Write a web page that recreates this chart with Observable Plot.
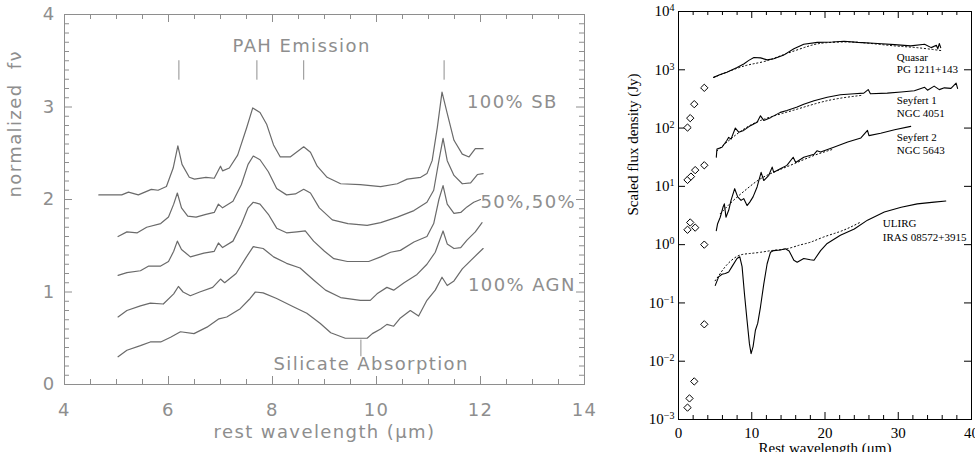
<!DOCTYPE html>
<html><head><meta charset="utf-8">
<script src="https://cdn.jsdelivr.net/npm/d3@7"></script>
<script src="https://cdn.jsdelivr.net/npm/@observablehq/plot@0.6"></script>
<style>
html,body{margin:0;padding:0;background:#fff;overflow:hidden;}
#wrap{position:relative;width:975px;height:452px;overflow:hidden;}
#left{position:absolute;left:0;top:0;width:600px;height:452px;}
#right{position:absolute;left:600px;top:0;width:390px;height:452px;}
#wrap svg{max-width:none !important;display:block;}
</style></head><body>
<div id="wrap"><div id="left"></div><div id="right"></div></div>
<script>
// ---------------- LEFT PANEL DATA (rest wavelength µm, normalized fν) ----------------
const spec100SB = [[4.66,2.05],[5.1,2.05],[5.23,2.08],[5.42,2.05],[5.67,2.11],[5.8,2.10],[5.96,2.14],[6.09,2.34],[6.18,2.58],[6.26,2.38],[6.4,2.24],[6.5,2.22],[6.72,2.24],[6.88,2.23],[7.0,2.36],[7.04,2.31],[7.17,2.34],[7.33,2.48],[7.5,2.77],[7.62,2.99],[7.76,2.94],[7.89,2.81],[8.02,2.59],[8.15,2.46],[8.34,2.46],[8.6,2.57],[8.73,2.51],[8.86,2.36],[9.05,2.24],[9.31,2.17],[9.69,2.16],[10.08,2.14],[10.4,2.17],[10.59,2.22],[10.85,2.24],[10.97,2.28],[11.07,2.42],[11.17,2.78],[11.26,3.16],[11.36,2.93],[11.49,2.64],[11.65,2.49],[11.78,2.46],[11.9,2.55],[12.05,2.55]];
const spec75SB = [[5.03,1.6],[5.2,1.65],[5.4,1.64],[5.58,1.7],[5.85,1.74],[6.0,1.81],[6.1,1.95],[6.17,2.07],[6.25,1.91],[6.37,1.82],[6.53,1.81],[6.72,1.84],[6.88,1.86],[6.96,1.95],[7.04,1.91],[7.24,1.98],[7.4,2.16],[7.53,2.38],[7.63,2.47],[7.76,2.43],[7.92,2.3],[8.08,2.12],[8.27,2.05],[8.44,2.06],[8.6,2.11],[8.73,2.07],[8.9,1.91],[9.15,1.78],[9.45,1.74],[9.82,1.72],[10.08,1.75],[10.4,1.81],[10.72,1.88],[10.97,1.97],[11.1,2.1],[11.2,2.42],[11.28,2.66],[11.36,2.42],[11.49,2.26],[11.65,2.17],[11.81,2.18],[11.94,2.27],[12.05,2.28]];
const spec50SB = [[5.03,1.18],[5.2,1.21],[5.46,1.23],[5.62,1.28],[5.85,1.28],[6.0,1.33],[6.1,1.44],[6.17,1.55],[6.25,1.46],[6.42,1.38],[6.68,1.42],[6.88,1.44],[6.96,1.53],[7.04,1.48],[7.24,1.55],[7.4,1.73],[7.53,1.91],[7.63,1.97],[7.76,1.95],[7.92,1.84],[8.08,1.69],[8.27,1.64],[8.47,1.65],[8.63,1.66],[8.79,1.55],[9.0,1.44],[9.18,1.36],[9.44,1.33],[9.85,1.33],[10.08,1.38],[10.27,1.43],[10.46,1.45],[10.72,1.54],[10.97,1.6],[11.1,1.74],[11.2,2.0],[11.28,2.15],[11.36,1.95],[11.49,1.85],[11.62,1.86],[11.74,1.92],[11.87,1.97],[12.0,2.0]];
const spec25SB = [[5.03,0.73],[5.2,0.8],[5.46,0.85],[5.65,0.88],[5.9,0.87],[6.1,0.98],[6.19,1.06],[6.28,1.0],[6.42,0.96],[6.6,1.0],[6.85,1.05],[7.0,1.14],[7.08,1.1],[7.3,1.2],[7.5,1.38],[7.63,1.49],[7.82,1.47],[8.02,1.38],[8.27,1.31],[8.53,1.26],[8.79,1.13],[9.02,1.02],[9.31,0.94],[9.69,0.91],[9.88,0.91],[10.01,0.98],[10.2,1.05],[10.33,1.02],[10.53,1.1],[10.78,1.19],[10.97,1.3],[11.13,1.43],[11.28,1.66],[11.36,1.52],[11.49,1.47],[11.62,1.48],[11.74,1.56],[11.9,1.65],[12.03,1.75]];
const spec100AGN = [[5.03,0.3],[5.2,0.37],[5.46,0.42],[5.65,0.46],[5.85,0.46],[6.04,0.51],[6.23,0.57],[6.49,0.55],[6.74,0.62],[6.97,0.71],[7.12,0.73],[7.38,0.82],[7.57,0.93],[7.67,1.0],[7.82,0.99],[8.08,0.93],[8.4,0.84],[8.66,0.77],[8.92,0.66],[9.12,0.56],[9.4,0.5],[9.82,0.5],[9.92,0.55],[10.08,0.6],[10.2,0.65],[10.33,0.63],[10.46,0.72],[10.65,0.8],[10.81,0.74],[10.97,0.91],[11.13,1.02],[11.26,1.16],[11.36,1.07],[11.49,1.12],[11.65,1.25],[11.81,1.34],[12.05,1.47]];
const leftXTicks = [4,6,8,10,12,14];
const leftYTicks = [0,1,2,3,4];
const pahBands = [6.2,7.7,8.6,11.3];
const pahMarkerSpan = [3.29,3.5];
const silicateBand = [9.7];
const silicateMarkerSpan = [0.3,0.48];
const leftLabelsStart = [
  {text:"100% SB", x:11.74, y:3.05},
  {text:"50%,50%", x:12.0, y:1.97},
  {text:"100% AGN", x:11.76, y:1.07},
  {text:"Silicate Absorption", x:8.02, y:0.22}
];
const leftLabelsCenter = [{text:"PAH Emission", x:8.56, y:3.66}];

// ---------------- RIGHT PANEL DATA (rest wavelength µm, scaled flux density Jy) ----------------
const quasarObs = [[4.8,741],[5.7,830],[6.6,910],[8.0,1096],[8.9,1260],[9.6,1450],[10.3,1620],[11.2,1600],[12.1,1480],[13.0,1550],[14.4,1800],[15.75,2300],[17.1,2750],[18.95,2950],[21.0,3000],[22.6,3090],[24.5,2950],[27.2,2820],[29.5,2700],[31.7,2570],[33.6,2750],[34.5,2400],[35.2,2630],[35.4,2290],[35.6,2820],[35.8,2400]];
const quasarModel = [[4.8,741],[8.0,1060],[10.0,1250],[12.0,1420],[14.0,1750],[16.0,2150],[18.0,2600],[20.0,2900],[23.0,3000],[26.0,2850],[29.5,2570],[32.5,2400],[35.8,2140]];
const seyfert1Obs = [[5.16,31.6],[5.25,43.7],[5.94,46.8],[6.62,61.7],[6.85,69.2],[7.17,64.6],[7.76,100],[8.22,85.1],[8.9,91.2],[9.82,110],[10.73,126],[11.19,162],[11.64,135],[12.56,151],[13.0,162],[13.9,186],[14.8,200],[16.2,229],[17.1,257],[18.5,295],[20.3,339],[22.1,372],[24.0,389],[25.3,398],[25.9,457],[26.2,389],[28.5,398],[30.4,417],[32.2,437],[33.6,501],[34.0,447],[34.9,525],[35.6,457],[36.3,490],[37.2,479],[37.9,589],[38.1,479]];
const seyfert1Model = [[5.25,40.7],[8.0,79.4],[11.2,135],[15.8,204],[20.3,295],[24.9,363]];
const seyfert2Obs = [[5.16,1.74],[5.34,2.29],[5.7,2.95],[6.07,4.37],[6.26,5.01],[6.48,2.95],[6.85,3.89],[7.17,5.75],[7.67,9.12],[8.08,6.61],[8.54,5.75],[8.9,6.17],[9.36,4.68],[9.73,5.37],[10.18,6.61],[10.73,9.77],[11.28,17.4],[11.64,12.6],[12.33,15.5],[12.79,21.4],[13.0,17.4],[13.9,20],[14.8,22.9],[15.66,31.6],[16.0,25.7],[17.1,31.6],[18.5,35.5],[18.9,40.7],[19.4,38.9],[21.2,46.8],[23.1,57.5],[24.9,67.6],[25.8,91.2],[26.0,74.1],[27.6,81.3],[29.5,93.3],[31.7,107]];
const seyfert2Model = [[5.7,3.4],[7.5,5.75],[9.36,9.1],[11.2,13.5],[13.5,18.6],[15.8,24.5],[18.5,33.9],[21.2,43.7]];
const ulirgObs = [[5.02,0.2],[5.48,0.28],[5.94,0.31],[6.39,0.32],[6.85,0.34],[7.3,0.42],[7.99,0.58],[8.36,0.62],[8.68,0.42],[9.0,0.145],[9.36,0.05],[9.68,0.02],[9.91,0.0135],[10.18,0.0178],[10.5,0.034],[10.82,0.045],[11.19,0.085],[11.64,0.21],[12.1,0.47],[12.56,0.74],[13.0,0.79],[13.9,0.81],[14.6,0.85],[15.1,0.78],[15.75,0.54],[16.2,0.5],[17.1,0.58],[18.0,0.55],[18.5,0.54],[19.4,0.79],[20.3,1.05],[22.1,1.45],[24.0,1.86],[25.8,2.63],[28.1,3.63],[30.4,4.37],[32.6,5.01],[34.9,5.37],[36.5,5.62]];
const ulirgModel = [[5.0,0.24],[5.7,0.32],[6.6,0.45],[8.0,0.63],[9.5,0.7],[11.2,0.74],[13.0,0.8],[14.8,0.85],[16.5,0.98],[18.0,1.1],[19.8,1.35],[21.7,1.62],[23.3,1.95],[24.9,2.45]];
const photometry = [[1.23,102],[1.6,148],[2.15,257],[3.52,490],[1.23,12.9],[1.7,14.7],[2.28,19],[3.52,23],[1.23,1.8],[1.6,2.4],[2.28,1.96],[3.52,1.0],[3.52,0.043],[2.15,0.0045],[1.5,0.0023],[1.23,0.0016]];
const rightXTicks = [0,10,20,30,40];
const rightYTicks = [1e-3,1e-2,1e-1,1,1e1,1e2,1e3,1e4];
const rightLabels = [
  {text:"Quasar", x:29.8, y:1650},
  {text:"PG 1211+143", x:29.8, y:1000},
  {text:"Seyfert 1", x:29.8, y:295},
  {text:"NGC 4051", x:29.8, y:178},
  {text:"Seyfert 2", x:29.8, y:69},
  {text:"NGC 5643", x:29.8, y:41.7},
  {text:"ULIRG", x:27.9, y:2.31},
  {text:"IRAS 08572+3915", x:27.9, y:1.33}
];

// ---------------- LEFT PANEL ----------------
const G = "#8e8e8e", GL = "#6a6a6a";
const LW = 600, LH = 452, LML = 64, LMR = 16, LMT = 14, LMB = 68;
const lInnerH = LH - LMT - LMB, lInnerW = LW - LML - LMR;
const leftXMinor = d3.range(4, 14.001, 0.5).filter(v => !leftXTicks.includes(v));
const leftYMinor = d3.range(0, 4.0001, 0.1).map(v => +v.toFixed(1)).filter(v => !leftYTicks.includes(v));
const leftSpectra = [["100% SB", spec100SB],["75% SB", spec75SB],["50%", spec50SB],["25% SB", spec25SB],["100% AGN", spec100AGN]];
const leftRows = leftSpectra.flatMap(([name, pts]) => pts.map(([x, y]) => ({name, x, y})));
const leftFont = "'DejaVu Sans', 'Liberation Sans', sans-serif";
const lt = {fontSize: 18, fill: G, fontFamily: leftFont};

const leftPlot = Plot.plot({
  width: LW, height: LH, marginLeft: LML, marginRight: LMR, marginTop: LMT, marginBottom: LMB,
  style: {fontFamily: leftFont, background: "transparent", letterSpacing: "1.4px"},
  x: {domain: [4, 14]}, y: {domain: [0, 4]},
  marks: [
    Plot.frame({stroke: G}),
    Plot.tickX(leftXTicks, {x: d => d, stroke: G, insetTop: lInnerH - 8}),
    Plot.tickX(leftXTicks, {x: d => d, stroke: G, insetBottom: lInnerH - 8}),
    Plot.tickX(leftXMinor, {x: d => d, stroke: G, insetTop: lInnerH - 5}),
    Plot.tickX(leftXMinor, {x: d => d, stroke: G, insetBottom: lInnerH - 5}),
    Plot.tickY(leftYTicks, {y: d => d, stroke: G, insetRight: lInnerW - 8}),
    Plot.tickY(leftYTicks, {y: d => d, stroke: G, insetLeft: lInnerW - 8}),
    Plot.tickY(leftYMinor, {y: d => d, stroke: G, insetRight: lInnerW - 5}),
    Plot.tickY(leftYMinor, {y: d => d, stroke: G, insetLeft: lInnerW - 5}),
    Plot.axisX(leftXTicks, {tickSize: 0, tickPadding: 19, fontSize: 18, color: G, label: null, tickFormat: d => String(d)}),
    Plot.axisY(leftYTicks, {tickSize: 0, tickPadding: 9, fontSize: 18, color: G, label: null, tickFormat: d => String(d)}),
    Plot.line(leftRows, {x: "x", y: "y", z: "name", stroke: GL, strokeWidth: 1.2}),
    Plot.ruleX(pahBands, {x: d => d, y1: pahMarkerSpan[0], y2: pahMarkerSpan[1], stroke: G}),
    Plot.ruleX(silicateBand, {x: d => d, y1: silicateMarkerSpan[0], y2: silicateMarkerSpan[1], stroke: G}),
    Plot.text(leftLabelsStart, {x: "x", y: "y", text: "text", textAnchor: "start", ...lt}),
    Plot.text(leftLabelsCenter, {x: "x", y: "y", text: "text", textAnchor: "middle", ...lt}),
    Plot.text(["normalized  fν"], {frameAnchor: "left", dx: -49, dy: -2, rotate: -90, ...lt}),
    Plot.text(["rest wavelength (μm)"], {frameAnchor: "bottom", dy: 53, ...lt})
  ]
});
document.getElementById("left").appendChild(leftPlot);

// ---------------- RIGHT PANEL ----------------
const RW = 390, RH = 452, RML = 78, RMR = 19, RMT = 11, RMB = 33;
const rInnerH = RH - RMT - RMB, rInnerW = RW - RML - RMR;
const rightXMinor = d3.range(0, 40.001, 2).filter(v => !rightXTicks.includes(v));
const obsRows = [["Quasar", quasarObs],["Seyfert 1", seyfert1Obs],["Seyfert 2", seyfert2Obs],["ULIRG", ulirgObs]]
  .flatMap(([name, pts]) => pts.map(([x, y]) => ({name, x, y})));
const modelRows = [["Quasar", quasarModel],["Seyfert 1", seyfert1Model],["Seyfert 2", seyfert2Model],["ULIRG", ulirgModel]]
  .flatMap(([name, pts]) => pts.map(([x, y]) => ({name, x, y})));
const photRows = photometry.map(([x, y]) => ({x, y}));
const serif = "'Liberation Serif', 'Times New Roman', serif";

const rightPlot = Plot.plot({
  width: RW, height: RH, marginLeft: RML, marginRight: RMR, marginTop: RMT, marginBottom: RMB,
  style: {fontFamily: serif, background: "transparent", color: "#000"},
  x: {domain: [0, 40]},
  y: {type: "log", domain: [1e-3, 1e4]},
  marks: [
    Plot.frame({stroke: "#000"}),
    Plot.tickX(rightXTicks, {x: d => d, stroke: "#000", insetTop: rInnerH - 7}),
    Plot.tickX(rightXTicks, {x: d => d, stroke: "#000", insetBottom: rInnerH - 7}),
    Plot.tickX(rightXMinor, {x: d => d, stroke: "#000", insetTop: rInnerH - 4}),
    Plot.tickX(rightXMinor, {x: d => d, stroke: "#000", insetBottom: rInnerH - 4}),
    Plot.tickY(rightYTicks, {y: d => d, stroke: "#000", insetRight: rInnerW - 7}),
    Plot.tickY(rightYTicks, {y: d => d, stroke: "#000", insetLeft: rInnerW - 7}),
    Plot.axisX(rightXTicks, {tickSize: 0, tickPadding: 8, fontSize: 15, fill: "#000", label: null}),
    Plot.axisY(rightYTicks, {tickSize: 0, tickPadding: 4, fontSize: 15, fill: "#000", label: null,
      tickFormat: d => "10^" + Math.round(Math.log10(d))}),
    Plot.line(modelRows, {x: "x", y: "y", z: "name", stroke: "#000", strokeWidth: 1, strokeDasharray: "1.2,2.6", curve: "natural"}),
    Plot.line(obsRows, {x: "x", y: "y", z: "name", stroke: "#000", strokeWidth: 1.1}),
    Plot.dot(photRows, {x: "x", y: "y", symbol: "diamond2", r: 3.3, stroke: "#000", fill: "#fff", strokeWidth: 1}),
    Plot.text(rightLabels, {x: "x", y: "y", text: "text", textAnchor: "start", fontSize: 11, fill: "#000", fontFamily: serif, stroke: "#fff", strokeWidth: 0, letterSpacing: "-0.2px"}),
    Plot.text(["Scaled flux density (Jy)"], {frameAnchor: "left", dx: -45, rotate: -90, fontSize: 15, fill: "#000", fontFamily: serif}),
    Plot.text(["Rest wavelength (μm)"], {frameAnchor: "bottom", dy: 23, lineAnchor: "top", fontSize: 15, fill: "#000", fontFamily: serif})
  ]
});
d3.select(rightPlot).selectAll('g[aria-label="y-axis tick label"] text').each(function () {
  const m = this.textContent.match(/^10\^(-?\d+)$/);
  if (!m) return;
  const t = d3.select(this);
  t.text(null);
  t.append("tspan").text("10");
  t.append("tspan").attr("dy", "-0.5em").attr("font-size", "10").text(m[1].replace("-", "\u2212"));
});
document.getElementById("right").appendChild(rightPlot);
</script>
</body></html>
